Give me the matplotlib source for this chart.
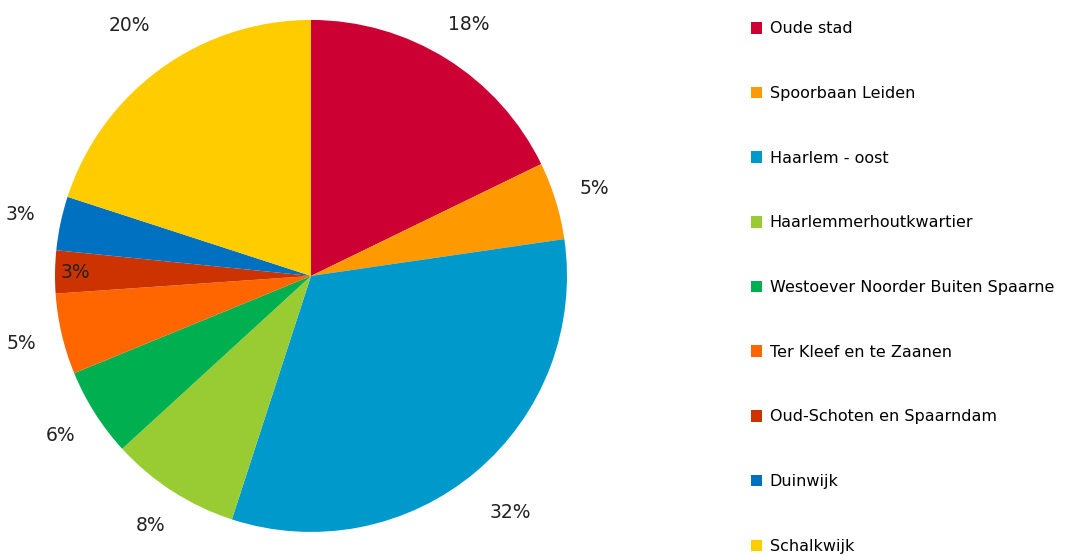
import matplotlib
matplotlib.use("Agg")
import matplotlib.pyplot as plt
from matplotlib.patches import Patch

categories = ["Oude stad", "Spoorbaan Leiden", "Haarlem - oost", "Haarlemmerhoutkwartier",
              "Westoever Noorder Buiten Spaarne", "Ter Kleef en te Zaanen",
              "Oud-Schoten en Spaarndam", "Duinwijk", "Schalkwijk"]
values = [17.8, 4.9, 32.3, 8.2, 5.6, 5.1, 2.7, 3.4, 20.0]
colors = ["#CC0033", "#FF9900", "#0099CC", "#99CC33", "#00B050",
          "#FF6600", "#CC3300", "#0070C0", "#FFCC00"]

fig = plt.figure(figsize=(10.87, 5.56), dpi=100)
ax = fig.add_axes([0.0506, 0.0432, 0.471, 0.921])
wedges, texts, autotexts = ax.pie(values, colors=colors, startangle=90, counterclock=False,
                                  autopct=lambda p: f"{p:.0f}%", pctdistance=1.16,
                                  wedgeprops=dict(linewidth=0),
                                  textprops=dict(fontsize=13.5, color="#222222"))
# Oud-Schoten label sits inside the slice
x, y = autotexts[6].get_position()
autotexts[6].set_position((x * 0.92 / 1.16, y * 0.92 / 1.16))
# spread the 32% and 20% labels slightly further out
for i in (2, 8):
    x, y = autotexts[i].get_position()
    autotexts[i].set_position((x * 1.21 / 1.16, y * 1.21 / 1.16))
ax.set_aspect("equal")
ax.set_xlim(-1, 1)
ax.set_ylim(-1, 1)

handles = [Patch(facecolor=c, edgecolor="none") for c in colors]
fig.legend(handles, categories, loc="upper left", bbox_to_anchor=(0.685, 0.973),
           frameon=False, fontsize=11.5, labelspacing=3.11, handlelength=0.72,
           handleheight=0.72, handletextpad=0.45, borderaxespad=0.0)
fig.savefig("out.png", dpi=100)
